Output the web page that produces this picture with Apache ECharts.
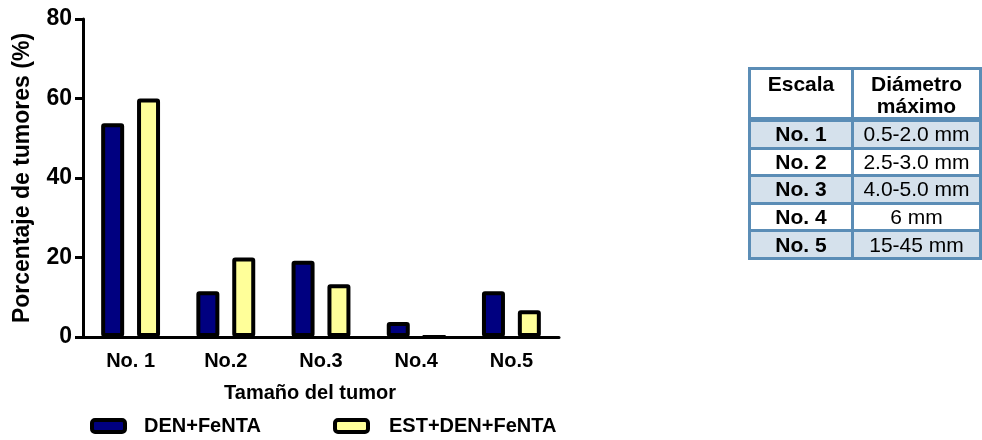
<!DOCTYPE html>
<html>
<head>
<meta charset="utf-8">
<script src="https://cdn.jsdelivr.net/npm/echarts@6/dist/echarts.min.js"></script>
<style>
  html, body { margin: 0; padding: 0; background: #fff; }
  #wrap { position: relative; width: 982px; height: 440px; }
  #chart { position: absolute; left: 0; top: 0; width: 982px; height: 440px; }
  #scale {
    position: absolute; left: 748px; top: 67px;
    border-collapse: collapse;
    border: 3px solid #5b8db6;
    font-family: 'Liberation Sans', Arial, sans-serif;
    font-size: 21px; color: #000;
  }
  #scale td { border: 3px solid #5b8db6; padding: 0; text-align: center; line-height: 22px; }
  #scale tr.head td { font-weight: bold; vertical-align: top; padding-top: 3px; height: 44px; background: #fff; border-bottom-width: 5px; }
  #scale tr.row td { height: 24.6px; }
  #scale tr.row td.k { font-weight: bold; }
  #scale tr.alt td { background: #d5e1ec; }
</style>
</head>
<body>
<div id="wrap">
  <div id="chart"></div>
  <table id="scale"></table>
</div>
<script>
// categorias y valores (%)
var categorias = ['No. 1', 'No.2', 'No.3', 'No.4', 'No.5'];
var denFenta = [53.8, 11.5, 19.2, 3.8, 11.5];
var estDenFenta = [60, 20, 13.3, 0, 6.7];
var yTicks = [0, 20, 40, 60, 80];

// tabla de escala
var escalaCol = ['Escala', 'Diámetro<br>máximo'];
var escalas = ['No. 1', 'No. 2', 'No. 3', 'No. 4', 'No. 5'];
var diametros = ['0.5-2.0 mm', '2.5-3.0 mm', '4.0-5.0 mm', '6 mm', '15-45 mm'];

var html = '<tr class="head"><td style="width:100px">' + escalaCol[0] + '</td><td style="width:125px">' + escalaCol[1] + '</td></tr>';
escalas.forEach(function (v, i) {
    html += '<tr class="row' + (i % 2 == 0 ? ' alt' : '') + '"><td class="k">' + v + '</td><td>' + diametros[i] + '</td></tr>';
});
document.getElementById('scale').innerHTML = html;

var font = "'Liberation Sans', Arial, sans-serif";
var myChart = echarts.init(document.getElementById('chart'));
myChart.setOption({
    animation: false,
    textStyle: { fontFamily: font },
    legend: [
        {
            left: 90, top: 416, padding: 0,
            data: ['DEN+FeNTA'],
            itemWidth: 33, itemHeight: 12,
            icon: 'roundRect',
            itemStyle: { borderColor: '#000', borderWidth: 4 },
            textStyle: { fontSize: 20, fontWeight: 'bold', color: '#000', fontFamily: font, padding: [0, 0, 0, 14] }
        },
        {
            left: 333, top: 416, padding: 0,
            data: ['EST+DEN+FeNTA'],
            itemWidth: 33, itemHeight: 12,
            icon: 'roundRect',
            itemStyle: { borderColor: '#000', borderWidth: 4 },
            textStyle: { fontSize: 20, fontWeight: 'bold', color: '#000', fontFamily: font, padding: [0, 0, 0, 16] }
        }
    ],
    grid: { left: 83, right: 423, top: 19, bottom: 103 },
    xAxis: {
        type: 'category',
        data: categorias,
        name: 'Tamaño del tumor',
        nameLocation: 'middle',
        nameGap: 46,
        nameTextStyle: { fontSize: 20, fontWeight: 'bold', color: '#000', fontFamily: font, padding: [0, 22, 0, 0] },
        axisLine: { lineStyle: { color: '#000', width: 3 } },
        axisTick: { alignWithLabel: true, length: 8, lineStyle: { color: '#000', width: 3 } },
        axisLabel: { fontSize: 20, fontWeight: 'bold', color: '#000', margin: 14, fontFamily: font }
    },
    yAxis: {
        type: 'value',
        min: yTicks[0],
        max: yTicks[yTicks.length - 1],
        interval: 20,
        name: 'Porcentaje de tumores (%)',
        nameLocation: 'middle',
        nameGap: 49,
        nameTextStyle: { fontSize: 23, fontWeight: 'bold', color: '#000', fontFamily: font },
        axisLine: { show: true, lineStyle: { color: '#000', width: 3 } },
        axisTick: { show: true, length: 8, lineStyle: { color: '#000', width: 3 } },
        axisLabel: { fontSize: 23, fontWeight: 'bold', color: '#000', margin: 11, fontFamily: font },
        splitLine: { show: false }
    },
    series: [
        {
            name: 'DEN+FeNTA',
            type: 'bar',
            data: denFenta,
            barWidth: 23,
            barGap: '56%',
            itemStyle: { color: '#000080', borderColor: '#000', borderWidth: 4, borderRadius: 1 }
        },
        {
            name: 'EST+DEN+FeNTA',
            type: 'bar',
            data: estDenFenta,
            barWidth: 23,
            itemStyle: { color: '#ffff99', borderColor: '#000', borderWidth: 4, borderRadius: 1 }
        }
    ]
});
</script>
</body>
</html>
